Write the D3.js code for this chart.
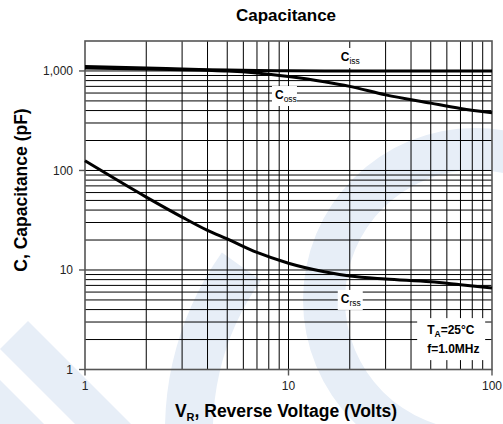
<!DOCTYPE html>
<html>
<head>
<meta charset="utf-8">
<title>Capacitance</title>
<style>
  body { margin: 0; background: #fff; }
  svg { display: block; font-family: "Liberation Sans", Arial, sans-serif; }
</style>
</head>
<body>
<div id="chart"></div>
<script src="https://d3js.org/d3.v7.min.js"></script>
<script>
// reverse voltage points (V) and capacitance curves (pF)
var voltage = [1, 2, 3, 4, 5, 7, 10, 15, 20, 30, 50, 70, 100];
var ciss = [1110, 1070, 1045, 1030, 1020, 1010, 1003, 1000, 1000, 1000, 1000, 1000, 1000];
var coss = [1070, 1045, 1030, 1015, 1000, 955, 880, 780, 700, 575, 475, 420, 380];
var crss = [125, 54, 34, 25, 20.5, 15, 11.7, 9.6, 8.7, 8.1, 7.6, 7.1, 6.6];

var xTicks = [1, 10, 100];
var yTicks = [1, 10, 100, 1000];
var yTickLabels = ["1", "10", "100", "1,000"];

// label anchors in data units: [V, pF]
var curveLabels = [
  { name: "C", sub: "iss", v: 20, c: 1350 },
  { name: "C", sub: "oss", v: 9.5, c: 560 },
  { name: "C", sub: "rss", v: 20, c: 5 }
];
var condV = 63, condC = 2.02;

var W = 503, H = 424;
var svg = d3.select("#chart").append("svg").attr("width", W).attr("height", H);

var x = d3.scaleLog().domain([1, 100]).range([85, 492]);
var y = d3.scaleLog().domain([1, 2000]).range([369.5, 41]);

// faint background watermark
var wm = svg.append("g").attr("fill", "#e7eef7");
wm.append("path")
  .attr("transform", "translate(475,300)")
  .attr("d", d3.arc()({ innerRadius: 130, outerRadius: 172, startAngle: 0, endAngle: 2 * Math.PI }));
wm.append("path")
  .attr("transform", "translate(470,430)")
  .attr("d", d3.arc()({ innerRadius: 257, outerRadius: 305, startAngle: -1.75, endAngle: -0.95 }));
wm.append("polygon").attr("points", "0,349 28,321 131,424 75,424");
wm.append("polygon").attr("points", "0,380 44,424 0,424");

// grid
var g = svg.append("g");
g.selectAll(".vg").data(x.ticks().filter(function (d) { return d > 1 && d < 100; }))
  .enter().append("line")
  .attr("x1", function (d) { return x(d); }).attr("x2", function (d) { return x(d); })
  .attr("y1", y(2000)).attr("y2", y(1))
  .attr("stroke", "#000").attr("stroke-width", 1);
g.selectAll(".hg").data(y.ticks().filter(function (d) { return d > 1 && d < 2000; }))
  .enter().append("line")
  .attr("x1", x(1)).attr("x2", x(100))
  .attr("y1", function (d) { return y(d); }).attr("y2", function (d) { return y(d); })
  .attr("stroke", "#000").attr("stroke-width", 1);

// label backgrounds knock out the grid
var lab = svg.append("g");
curveLabels.forEach(function (d) {
  var cx = x(d.v), cy = y(d.c);
  lab.append("rect").attr("x", cx - 12).attr("y", cy - 10).attr("width", 25).attr("height", 20).attr("fill", "#fff");
  var t = lab.append("text").attr("x", cx - 9).attr("y", cy + 3)
    .attr("font-size", 12).attr("font-weight", "bold");
  t.append("tspan").text(d.name);
  t.append("tspan").attr("dy", 3).attr("font-size", 8.5).attr("font-weight", "normal").text(d.sub);
});
var tcx = x(condV), tcy = y(condC);
lab.append("rect").attr("x", tcx - 34).attr("y", tcy - 21).attr("width", 68).attr("height", 42).attr("fill", "#fff");
var t1 = lab.append("text").attr("x", tcx - 24).attr("y", tcy - 5)
  .attr("font-size", 12).attr("font-weight", "bold");
t1.append("tspan").text("T");
t1.append("tspan").attr("dy", 3).attr("font-size", 8.5).text("A");
t1.append("tspan").attr("dy", -3).text("=25°C");
lab.append("text").attr("x", tcx - 24).attr("y", tcy + 14)
  .attr("font-size", 12).attr("font-weight", "bold").text("f=1.0MHz");

// frame and ticks
svg.append("rect").attr("x", x(1)).attr("y", y(2000))
  .attr("width", x(100) - x(1)).attr("height", y(1) - y(2000))
  .attr("fill", "none").attr("stroke", "#555").attr("stroke-width", 1.6);
svg.selectAll(".yt").data(yTicks).enter().append("line")
  .attr("x1", x(1) - 6).attr("x2", x(1))
  .attr("y1", function (d) { return y(d); }).attr("y2", function (d) { return y(d); })
  .attr("stroke", "#555").attr("stroke-width", 1.4);
svg.selectAll(".xt").data(xTicks).enter().append("line")
  .attr("x1", function (d) { return x(d); }).attr("x2", function (d) { return x(d); })
  .attr("y1", y(1)).attr("y2", y(1) + 6)
  .attr("stroke", "#555").attr("stroke-width", 1.4);

svg.selectAll(".yl").data(yTicks).enter().append("text")
  .attr("x", 73).attr("y", function (d) { return y(d) + 4.5; })
  .attr("text-anchor", "end").attr("font-size", 12).attr("fill", "#222")
  .text(function (d, i) { return yTickLabels[i]; });
svg.selectAll(".xl").data(xTicks).enter().append("text")
  .attr("x", function (d) { return x(d); }).attr("y", 389.5)
  .attr("text-anchor", "middle").attr("font-size", 12).attr("fill", "#222")
  .text(function (d) { return d; });

// curves
var line = d3.line()
  .x(function (d) { return x(d[0]); })
  .y(function (d) { return y(d[1]); })
  .curve(d3.curveMonotoneX);
[ciss, coss, crss].forEach(function (s) {
  svg.append("path")
    .attr("d", line(voltage.map(function (v, i) { return [v, s[i]]; })))
    .attr("fill", "none").attr("stroke", "#000").attr("stroke-width", 3);
});

// titles
svg.append("text").attr("x", 286).attr("y", 21).attr("text-anchor", "middle")
  .attr("font-size", 17).attr("font-weight", "bold").text("Capacitance");
svg.append("text").attr("transform", "translate(27,190) rotate(-90)")
  .attr("text-anchor", "middle").attr("font-size", 17.5).attr("font-weight", "bold")
  .text("C, Capacitance (pF)");
var xt = svg.append("text").attr("x", 286).attr("y", 417).attr("text-anchor", "middle")
  .attr("font-size", 17.5).attr("font-weight", "bold");
xt.append("tspan").text("V");
xt.append("tspan").attr("dy", 4).attr("font-size", 11).text("R");
xt.append("tspan").attr("dy", -4).text(", Reverse Voltage (Volts)");
</script>
</body>
</html>
